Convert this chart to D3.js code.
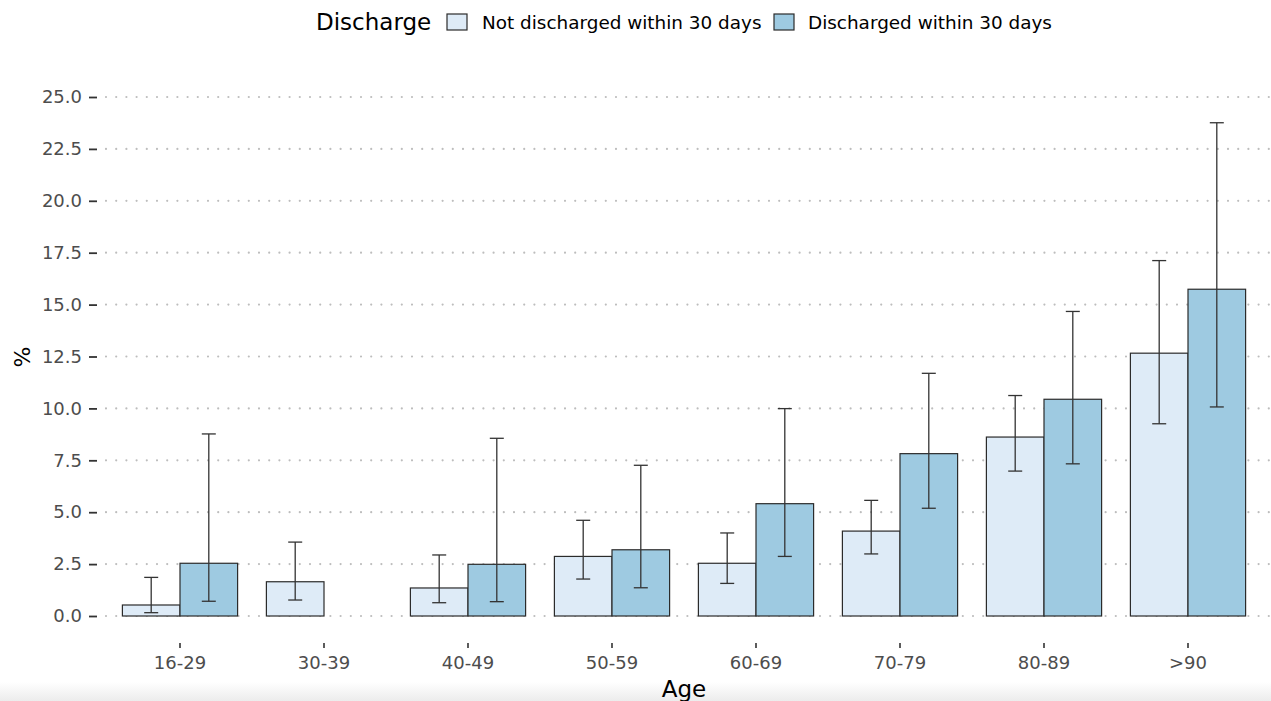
<!DOCTYPE html>
<html>
<head>
<meta charset="utf-8">
<script src="https://cdn.jsdelivr.net/npm/d3@7"></script>
<style>
  body { margin: 0; background: #fff; }
  text { font-family: "DejaVu Sans", "Liberation Sans", Arial, sans-serif; }
</style>
</head>
<body>
<div id="chart"></div>
<script>

// data
let ageGroups = ["16-29", "30-39", "40-49", "50-59", "60-69", "70-79", "80-89", ">90"];
let groups = ["Not discharged within 30 days", "Discharged within 30 days"];

let notDischarged = [0.53, 1.65, 1.35, 2.87, 2.54, 4.09, 8.62, 12.66];
let notDischargedLow = [0.16, 0.77, 0.64, 1.78, 1.57, 2.99, 6.98, 9.26];
let notDischargedHigh = [1.86, 3.56, 2.94, 4.61, 4.0, 5.57, 10.62, 17.12];

let discharged = [2.54, null, 2.49, 3.19, 5.41, 7.82, 10.44, 15.74];
let dischargedLow = [0.71, null, 0.69, 1.36, 2.87, 5.19, 7.33, 10.07];
let dischargedHigh = [8.77, null, 8.56, 7.26, 9.99, 11.69, 14.67, 23.76];

let yTicks = [0, 2.5, 5, 7.5, 10, 12.5, 15, 17.5, 20, 22.5, 25];

let colors = ["#deebf7", "#9ecae1"];

let svgWidth = 1271;
let svgHeight = 701;

let margin = {
top: 97,
right: 0,
bottom: 85,
left: 97
};

let height = svgHeight - margin.top - margin.bottom;
let width = svgWidth - margin.left - margin.right;

let svg = d3.select("#chart")
    .append("svg")
    .attr("width", svgWidth)
    .attr("height", svgHeight);

// faint shadow band at the bottom of the screenshot
let defs = svg.append("defs");
let grad = defs.append("linearGradient")
    .attr("id", "shade")
    .attr("x1", 0).attr("y1", 0).attr("x2", 0).attr("y2", 1);
grad.append("stop").attr("offset", "0%").attr("stop-color", "#ffffff");
grad.append("stop").attr("offset", "100%").attr("stop-color", "#ececec");
svg.append("rect")
    .attr("x", 0)
    .attr("y", 682)
    .attr("width", svgWidth)
    .attr("height", 19)
    .attr("fill", "url(#shade)");

let chartGroup = svg.append("g")
    .attr("transform", `translate(${margin.left}, ${margin.top})`);

// one 144px band per age group, first centre at page x = 180
let step = 144;
let firstCentre = 180 - margin.left;
let xScale = d3.scaleBand()
    .domain(ageGroups)
    .range([firstCentre - step / 2, firstCentre - step / 2 + step * ageGroups.length])
    .padding(0);

let xSub = d3.scaleBand()
    .domain(groups)
    .range([0.1 * step, 0.9 * step]);

let yScale = d3.scaleLinear()
    .domain([0, 25])
    .range([519, 0]);

// dotted horizontal grid
chartGroup.selectAll(".grid")
    .data(yTicks)
    .enter()
    .append("line")
    .attr("class", "grid")
    .attr("x1", 9)
    .attr("x2", width)
    .attr("y1", d => yScale(d))
    .attr("y2", d => yScale(d))
    .attr("stroke", "#bdbdbd")
    .attr("stroke-width", 2.2)
    .attr("stroke-linecap", "round")
    .attr("stroke-dasharray", "0,10.2");

// y axis
let leftAxis = d3.axisLeft(yScale)
    .tickValues(yTicks)
    .tickFormat(d3.format(".1f"))
    .tickSize(8)
    .tickPadding(7);

let yAxis = chartGroup.append("g")
    .call(leftAxis);
yAxis.select(".domain").remove();
yAxis.selectAll("line").attr("stroke", "#333").attr("stroke-width", 1.8);
yAxis.selectAll("text")
    .attr("fill", "#4d4d4d")
    .attr("font-size", "18px")
    .attr("font-family", "DejaVu Sans, Liberation Sans, Arial, sans-serif");

// x axis
let bottomAxis = d3.axisBottom(xScale)
    .tickSize(5)
    .tickPadding(8);

let xAxis = chartGroup.append("g")
    .attr("transform", `translate(0, ${yScale(0) + 27})`)
    .call(bottomAxis);
xAxis.select(".domain").remove();
xAxis.selectAll("line").attr("stroke", "#333").attr("stroke-width", 1.6);
xAxis.selectAll("text")
    .attr("fill", "#4d4d4d")
    .attr("font-size", "18px")
    .attr("font-family", "DejaVu Sans, Liberation Sans, Arial, sans-serif");

// bars
let series = [
    { key: groups[0], vals: notDischarged, lo: notDischargedLow, hi: notDischargedHigh },
    { key: groups[1], vals: discharged, lo: dischargedLow, hi: dischargedHigh }
];

let rows = [];
series.forEach(function(s, si) {
    ageGroups.forEach(function(a, i) {
        if (s.vals[i] !== null) {
            rows.push({ age: a, group: s.key, gi: si, value: s.vals[i], lo: s.lo[i], hi: s.hi[i] });
        }
    });
});

chartGroup.selectAll(".bar")
    .data(rows)
    .enter()
    .append("rect")
    .attr("class", "bar")
    .attr("x", d => xScale(d.age) + xSub(d.group))
    .attr("y", d => yScale(d.value))
    .attr("width", xSub.bandwidth())
    .attr("height", d => yScale(0) - yScale(d.value))
    .attr("fill", d => colors[d.gi])
    .attr("stroke", "#2b2b2b")
    .attr("stroke-width", 1.2);

// error bars
let errGroup = chartGroup.selectAll(".err")
    .data(rows)
    .enter()
    .append("g")
    .attr("class", "err")
    .attr("transform", d => `translate(${xScale(d.age) + xSub(d.group) + xSub.bandwidth() / 2}, 0)`);

errGroup.append("line")
    .attr("x1", 0).attr("x2", 0)
    .attr("y1", d => yScale(d.lo))
    .attr("y2", d => yScale(d.hi))
    .attr("stroke", "#333")
    .attr("stroke-width", 1.3);

errGroup.append("line")
    .attr("x1", -7).attr("x2", 7)
    .attr("y1", d => yScale(d.hi))
    .attr("y2", d => yScale(d.hi))
    .attr("stroke", "#333")
    .attr("stroke-width", 1.3);

errGroup.append("line")
    .attr("x1", -7).attr("x2", 7)
    .attr("y1", d => yScale(d.lo))
    .attr("y2", d => yScale(d.lo))
    .attr("stroke", "#333")
    .attr("stroke-width", 1.3);

// axis titles
svg.append("text")
    .attr("x", 684)
    .attr("y", 697)
    .attr("text-anchor", "middle")
    .attr("font-size", "23px")
    .attr("fill", "#000")
    .text("Age");

svg.append("text")
    .attr("transform", "translate(30, 357) rotate(-90)")
    .attr("text-anchor", "middle")
    .attr("font-size", "22px")
    .attr("fill", "#000")
    .text("%");

// legend
let legend = svg.append("g");

legend.append("text")
    .attr("x", 316)
    .attr("y", 30)
    .attr("font-size", "23px")
    .attr("fill", "#000")
    .text("Discharge");

let legendBoxX = [447, 774];
let legendTextX = [482, 808];
groups.forEach(function(g, i) {
    legend.append("rect")
        .attr("x", legendBoxX[i])
        .attr("y", 14)
        .attr("width", 20)
        .attr("height", 16)
        .attr("fill", colors[i])
        .attr("stroke", "#2b2b2b")
        .attr("stroke-width", 1.2);
    legend.append("text")
        .attr("x", legendTextX[i])
        .attr("y", 29)
        .attr("font-size", "18.4px")
        .attr("fill", "#000")
        .text(g);
});

</script>
</body>
</html>
